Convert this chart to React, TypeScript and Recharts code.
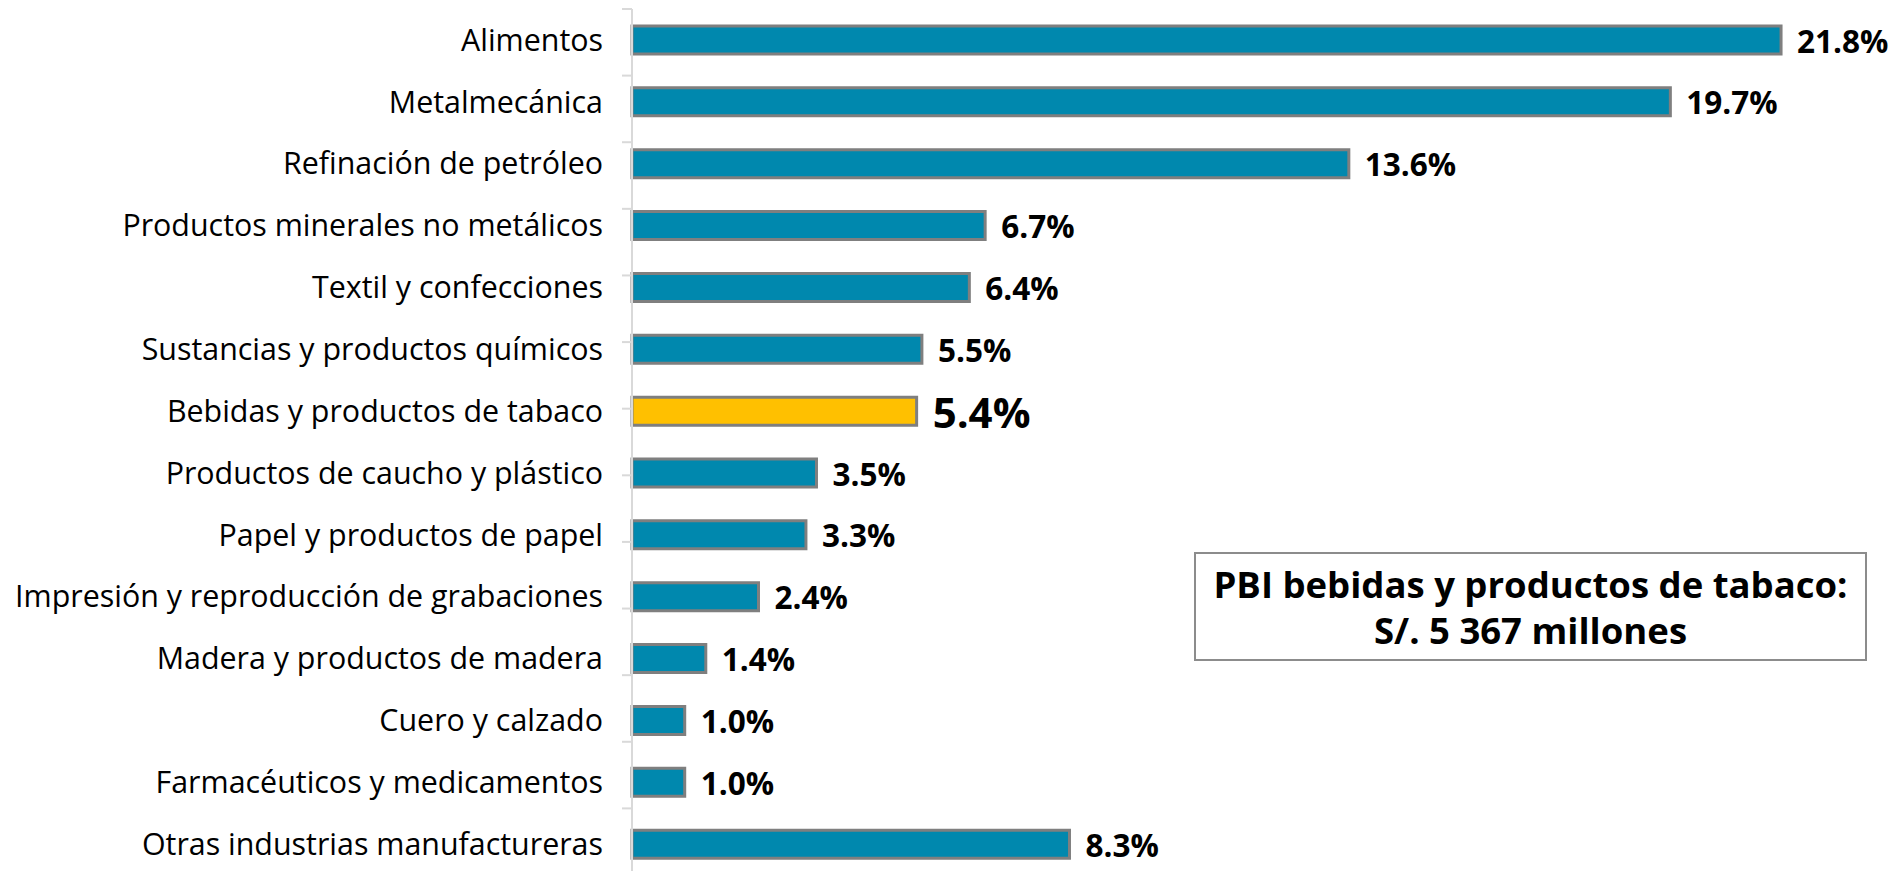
import React from 'react';
import { BarChart, Bar, XAxis, YAxis, Cell, LabelList } from 'recharts';

const categories = [
  'Alimentos',
  'Metalmecánica',
  'Refinación de petróleo',
  'Productos minerales no metálicos',
  'Textil y confecciones',
  'Sustancias y productos químicos',
  'Bebidas y productos de tabaco',
  'Productos de caucho y plástico',
  'Papel y productos de papel',
  'Impresión y reproducción de grabaciones',
  'Madera y productos de madera',
  'Cuero y calzado',
  'Farmacéuticos y medicamentos',
  'Otras industrias manufactureras',
];

const shares = [21.8, 19.7, 13.6, 6.7, 6.4, 5.5, 5.4, 3.5, 3.3, 2.4, 1.4, 1.0, 1.0, 8.3];

const highlighted = 'Bebidas y productos de tabaco';

const boxLines = ['PBI bebidas y productos de tabaco:', 'S/. 5 367 millones'];

// tick marks sit between the categories, like the original
const boundaryTicks = categories.map((_, i) => i).concat(categories.length);

const data = categories.map((name, i) => ({ name, value: shares[i] }));

const FONT = '"Open Sans", "Noto Sans", sans-serif';

const renderValue = (props: any) => {
  const { x, y, width, height, value, index } = props;
  const big = categories[index] === highlighted;
  return (
    <text
      x={x + width + 16}
      y={y + height / 2}
      dominantBaseline="central"
      fontFamily={FONT}
      fontWeight={700}
      fontSize={big ? 42 : 31.5}
      fill="#000"
    >
      {`${Number(value).toFixed(1)}%`}
    </text>
  );
};

const noLabel = () => <g />;

export default function App() {
  return (
    <div
      style={{
        position: 'fixed',
        top: 0,
        left: 0,
        width: 1901,
        height: 871,
        overflow: 'hidden',
        background: '#fff',
      }}
    >
      <BarChart
        width={1901}
        height={880}
        data={data}
        layout="vertical"
        margin={{ top: 9, right: 4, bottom: 5, left: 0 }}
        barSize={28}
      >
        <XAxis type="number" domain={[0, 24]} hide />
        <YAxis
          yAxisId="y"
          type="category"
          dataKey="name"
          width={631}
          axisLine={false}
          tickLine={false}
          tickSize={10}
          tickMargin={18}
          interval={0}
          tick={{ fontFamily: FONT, fontSize: 30.4, fill: '#000' }}
        />
        <YAxis
          yAxisId="g"
          type="number"
          domain={[0, categories.length]}
          ticks={boundaryTicks}
          allowDataOverflow
          interval={0}
          tick={noLabel}
          width={1}
          tickSize={10}
          axisLine={{ stroke: '#d9d9d9', strokeWidth: 2 }}
          tickLine={{ stroke: '#d9d9d9', strokeWidth: 2 }}
        />
        <Bar yAxisId="y" dataKey="value" stroke="#7f7f7f" strokeWidth={3} isAnimationActive={false}>
          {data.map((d) => (
            <Cell key={d.name} fill={d.name === highlighted ? '#ffc000' : '#0088ae'} />
          ))}
          <LabelList dataKey="value" content={renderValue} />
        </Bar>
      </BarChart>
      <div
        style={{
          position: 'absolute',
          left: 1194,
          top: 552,
          width: 673,
          height: 109,
          boxSizing: 'border-box',
          border: '2px solid #8c8c8c',
          background: '#fff',
          display: 'flex',
          flexDirection: 'column',
          justifyContent: 'center',
          alignItems: 'center',
          fontFamily: FONT,
          fontWeight: 700,
          fontSize: 36.5,
          lineHeight: '46px',
          color: '#000',
        }}
      >
        {boxLines.map((l) => (
          <div key={l}>{l}</div>
        ))}
      </div>
    </div>
  );
}
